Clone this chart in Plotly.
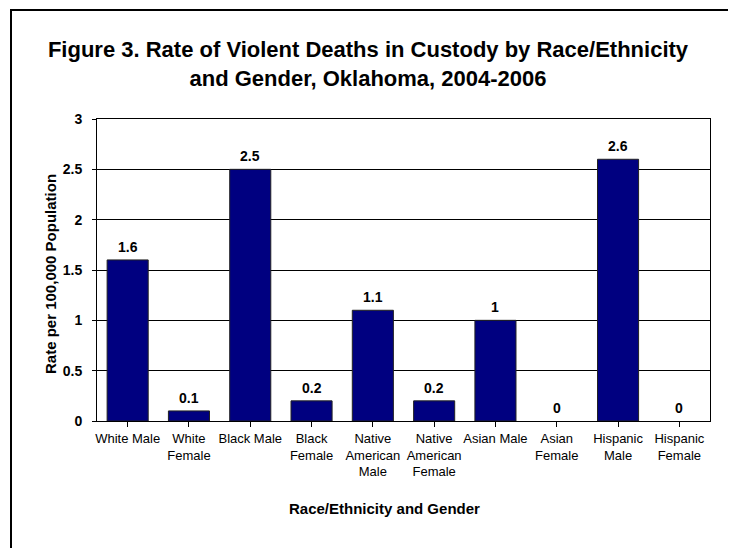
import plotly.graph_objects as go

categories = ["White Male", "White<br>Female", "Black Male", "Black<br>Female",
              "Native<br>American<br>Male", "Native<br>American<br>Female",
              "Asian Male", "Asian<br>Female", "Hispanic<br>Male", "Hispanic<br>Female"]
rates = [1.6, 0.1, 2.5, 0.2, 1.1, 0.2, 1.0, 0.0, 2.6, 0.0]
labels = ["1.6", "0.1", "2.5", "0.2", "1.1", "0.2", "1", "0", "2.6", "0"]
y_ticks = [0, 0.5, 1, 1.5, 2, 2.5, 3]
y_tick_text = ["0", "0.5", "1", "1.5", "2", "2.5", "3"]

W, H = 736, 548
OFF = 8  # page body margin offset
# plot area in screenshot pixels: x 97..710, y 119..421
L = 97 - OFF
T = 119 - OFF
pw, ph = 613, 302
R = W - L - pw
B = H - T - ph

def px_x(p):
    return (p - OFF - L) / pw

def px_y(p):
    return (T + ph - (p - OFF)) / ph

FONT = "Liberation Sans, Arial, sans-serif"
xs = list(range(len(categories)))

fig = go.Figure(go.Bar(
    x=xs,
    y=rates,
    marker=dict(color="#000080",
                line=dict(color="#222222", width=[1 if v > 0 else 0 for v in rates])),
    width=0.67,
))

value_labels = [
    dict(x=x, y=v, text=t, xref="x", yref="y", showarrow=False,
         xanchor="center", yanchor="middle", yshift=13,
         font=dict(family=FONT, size=14, color="black", weight="bold"))
    for x, v, t in zip(xs, rates, labels)
]

fig.update_layout(
    width=W, height=H,
    margin=dict(l=L, r=R, t=T, b=B, autoexpand=False),
    paper_bgcolor="white", plot_bgcolor="white",
    showlegend=False,
    title=dict(
        text="Figure 3. Rate of Violent Deaths in Custody by Race/Ethnicity<br>and Gender, Oklahoma, 2004-2006",
        x=(368 - OFF) / W, xanchor="center", xref="container",
        y=1 - (57 - OFF) / H, yanchor="middle", yref="container",
        font=dict(family=FONT, size=22, color="black", weight="bold"),
    ),
    xaxis=dict(
        tickmode="array",
        tickvals=xs,
        ticktext=categories,
        range=[-0.5, len(categories) - 0.5],
        tickson="boundaries",
        ticks="outside", ticklen=5, tickcolor="black", tickwidth=1,
        showline=True, linecolor="black", linewidth=1, mirror=True,
        showgrid=False,
        tickfont=dict(family=FONT, size=13, color="black"),
        tickangle=0,
    ),
    yaxis=dict(
        range=[0, 3],
        tickmode="array",
        tickvals=y_ticks,
        ticktext=y_tick_text,
        ticks="outside", ticklen=4, tickcolor="black", tickwidth=1,
        ticklabelstandoff=7,
        showline=True, linecolor="black", linewidth=1, mirror=True,
        showgrid=True, gridcolor="black", gridwidth=1,
        zeroline=False,
        tickfont=dict(family=FONT, size=14, color="black", weight="bold"),
    ),
    annotations=value_labels + [
        dict(
            text="Race/Ethnicity and Gender",
            x=px_x(384), y=px_y(508), xref="paper", yref="paper",
            xanchor="center", yanchor="middle", showarrow=False,
            font=dict(family=FONT, size=15, color="black", weight="bold"),
        ),
        dict(
            text="Rate per 100,000 Population",
            x=px_x(50), y=px_y(274), xref="paper", yref="paper",
            xanchor="center", yanchor="middle", showarrow=False, textangle=-90,
            font=dict(family=FONT, size=15, color="black", weight="bold"),
        ),
    ],
    shapes=[dict(
        type="rect", xref="paper", yref="paper",
        x0=px_x(11), x1=px_x(730), y0=px_y(600), y1=px_y(10),
        line=dict(color="black", width=2), fillcolor="rgba(0,0,0,0)", layer="below",
    )],
)

fig.write_html("out.html")
